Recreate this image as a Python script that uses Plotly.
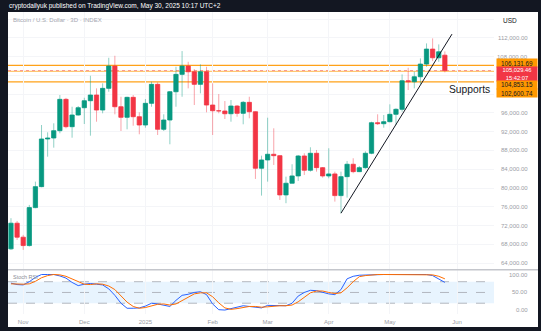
import pandas as pd
import plotly.graph_objects as go

# ---- BTC/USD 3-day candles -------------------------------------------------
candle_dates = pd.date_range("2024-10-27", periods=72, freq="3D")

opens = [67038, 72507, 69528, 67741, 75827, 80296, 90447, 90660, 92213, 98895,
         93064, 95554, 97107, 98597, 99810, 96618, 101235, 105981, 97320, 95064,
         99320, 95192, 93426, 98043, 102087, 92511, 94490, 100512, 104215, 105981,
         104768, 102087, 104768, 97682, 96469, 96405, 95830, 97469, 95916, 98256,
         96256, 84212, 85978, 87191, 86893, 78530, 81020, 82573, 86829, 83786,
         87404, 84339, 82573, 82999, 78381, 82424, 85063, 83488, 84339, 87404,
         93915, 93702, 94128, 95703, 96767, 102853, 102640, 103704, 106407, 109598,
         107747, 108300]
highs = [73571, 72987, 70018, 76402, 81360, 93426, 91872, 93788, 99810, 99200,
         97320, 97469, 99235, 103917, 101235, 102300, 107747, 108173, 99448, 99448,
         99810, 96128, 98959, 102640, 102512, 95703, 100661, 105832, 109173, 106896,
         105343, 106343, 105832, 102300, 100023, 98533, 98746, 97682, 98533, 99448,
         96300, 86893, 94979, 92723, 86950, 82424, 85063, 87042, 87404, 88680,
         88106, 84468, 88467, 83488, 83488, 85765, 86340, 84700, 87830, 94128,
         95703, 95554, 97831, 97000, 104215, 105620, 104768, 107620, 110811, 111875,
         110600, 109100]
lows = [66826, 68953, 66826, 67528, 75700, 80168, 86680, 88595, 91660, 92723,
        90723, 95405, 93640, 91149, 94128, 95916, 100512, 95703, 92149, 92511,
        93277, 91447, 92851, 97320, 91298, 92149, 89319, 97320, 99448, 101235,
        97682, 100172, 96128, 91298, 95916, 94703, 94128, 95192, 93575, 94851,
        81935, 78381, 81360, 84914, 77466, 76764, 81020, 81509, 82786, 83488,
        83488, 82211, 82083, 77105, 74636, 77955, 83148, 83400, 84100, 87200,
        93426, 92851, 94000, 93426, 96256, 100874, 101235, 102087, 105832, 107045,
        106896, 104640]
closes = [72507, 69528, 67741, 75827, 80296, 90447, 90660, 92213, 98895, 93064,
          95554, 97107, 98597, 99810, 96618, 101235, 105981, 97320, 95064, 99320,
          95192, 93426, 98043, 102087, 92511, 94490, 100512, 104215, 105981, 104768,
          102087, 104768, 97682, 96469, 96405, 95830, 97469, 95916, 98256, 96256,
          84212, 85978, 87191, 86893, 78530, 81020, 82573, 86829, 83786, 87404,
          84339, 82573, 82999, 78381, 82424, 85063, 83488, 84339, 87404, 93915,
          93702, 94128, 95703, 96767, 102853, 102640, 103704, 106407, 109598, 107747,
          109024, 105029.46]

# ---- Stochastic RSI (%K, %D) ----------------------------------------------
stoch_k = [76, 72, 71, 80, 92, 100, 100, 100, 96, 90,
           78, 69, 73, 75, 73, 71, 60, 42, 20, 6,
           6, 7, 12, 20, 18, 15, 11, 28, 42, 45,
           50, 52, 44, 18, 2, 1, 5, 10, 13, 11,
           8, 7, 14, 14, 12, 13, 20, 40, 50, 56,
           55, 50, 46, 44, 58, 88, 95, 98, 99, 100,
           100, 100, 100, 100, 100, 100, 100, 100, 100, 97,
           88, 78]
stoch_d = [74, 73, 73, 74, 81, 91, 97, 100, 99, 95,
           88, 79, 73, 72, 74, 73, 68, 58, 41, 23,
           11, 6, 8, 13, 17, 18, 15, 18, 27, 38,
           46, 49, 49, 38, 21, 7, 3, 5, 9, 11,
           11, 9, 10, 12, 13, 13, 15, 24, 37, 49,
           54, 54, 50, 47, 49, 63, 80, 94, 97, 99,
           100, 100, 100, 100, 100, 100, 100, 100, 100, 99,
           95, 88]

# ---- drawings ---------------------------------------------------------------
support_levels = [106131.69, 104853.15, 102600.74]
last_price = 105029.46
bar_countdown = "15:42:07"
trend_dates = ["2025-04-07", "2025-05-31 12:00"]
trend_prices = [74636, 112790]

month_tick_dates = ["2024-11-02", "2024-12-02", "2025-01-01", "2025-02-03",
                    "2025-03-02", "2025-04-01", "2025-05-01", "2025-06-03"]
month_tick_labels = ["Nov", "Dec", "2025", "Feb", "Mar", "Apr", "May", "Jun"]
price_grid = [64000, 68000, 72000, 76000, 80000, 84000, 88000, 92000,
              96000, 100000, 104000, 108000, 112000, 116000]
price_labels = [112000, 108000, 96000, 92000, 88000, 84000, 80000, 76000,
                72000, 68000, 64000]
stoch_labels = [100, 50, 0]

# ---- canvas geometry (pixels) ------------------------------------------------
W, H = 541, 331
X_LEFT, X_RIGHT = 8, 494
MAIN_TOP, MAIN_BOTTOM, OSC_BOTTOM = 12, 269.7, 314
X_RANGE = ["2024-10-25 13:00", "2025-06-21 03:00"]
BODY_WIDTH_MS = 2.1 * 24 * 3600 * 1000  # candle body width, a little over 2 days

UP = "#089981"
DOWN = "#f23645"
ORANGE = "#ff9800"
AXIS_TEXT = "#9a9da6"
GRID = "#f4f5f8"
FONT = "Liberation Sans"


def px(x):
    return x / W


def py(y):
    return 1 - y / H


fig = go.Figure()

rising = [c >= o for o, c in zip(opens, closes)]

# wicks, drawn lighter than the bodies
for up, colour in ((True, "rgba(8,153,129,0.45)"), (False, "rgba(242,54,69,0.45)")):
    wx, wy = [], []
    for d, h, l, r in zip(candle_dates, highs, lows, rising):
        if r == up:
            wx += [d, d, None]
            wy += [l, h, None]
    fig.add_trace(go.Scatter(x=wx, y=wy, mode="lines", line=dict(color=colour, width=1),
                             xaxis="x", yaxis="y", hoverinfo="skip"))

# candle bodies: bars from min(open, close) spanning |close - open|
body_colours = [UP if r else DOWN for r in rising]
fig.add_trace(go.Bar(
    x=candle_dates,
    base=[min(o, c) for o, c in zip(opens, closes)],
    y=[abs(c - o) for o, c in zip(opens, closes)],
    width=BODY_WIDTH_MS,
    marker=dict(color=body_colours, line=dict(color=body_colours, width=0.8)),
    xaxis="x", yaxis="y", hoverinfo="skip"))

# rising trendline
fig.add_trace(go.Scatter(x=trend_dates, y=trend_prices, mode="lines",
                         line=dict(color="#131722", width=1), xaxis="x", yaxis="y",
                         hoverinfo="skip"))

# Stoch RSI lines
fig.add_trace(go.Scatter(x=candle_dates, y=stoch_k, mode="lines",
                         line=dict(color="#2962ff", width=1), xaxis="x2", yaxis="y2",
                         hoverinfo="skip"))
fig.add_trace(go.Scatter(x=candle_dates, y=stoch_d, mode="lines",
                         line=dict(color="#ff6d00", width=1), xaxis="x2", yaxis="y2",
                         hoverinfo="skip"))

shapes = [
    # white chart panel inside the dark frame
    dict(type="rect", xref="paper", yref="paper", x0=px(8), x1=px(538),
         y0=py(327), y1=py(MAIN_TOP), fillcolor="white", line=dict(width=0), layer="below"),
    # oscillator band 20..80
    dict(type="rect", xref="x2 domain", yref="y2", x0=0, x1=1, y0=20, y1=80,
         fillcolor="rgba(33,150,243,0.10)", line=dict(width=0), layer="below"),
    # pane separator
    dict(type="line", xref="paper", yref="paper", x0=px(8), x1=px(538),
         y0=py(MAIN_BOTTOM), y1=py(MAIN_BOTTOM), line=dict(color="#c4c6cc", width=1.6)),
]
for lvl in (80, 50, 20):
    shapes.append(dict(type="line", xref="x2 domain", yref="y2", x0=0, x1=1, y0=lvl, y1=lvl,
                       line=dict(color="#a3a6ae", width=0.8, dash="dash"), layer="below"))
for lvl in support_levels:
    middle = lvl == support_levels[1]
    shapes.append(dict(type="line", xref="x domain", yref="y", x0=0, x1=1, y0=lvl, y1=lvl,
                       line=dict(color=ORANGE, width=1.2), opacity=0.55 if middle else 0.9,
                       layer="below"))
shapes.append(dict(type="line", xref="x domain", yref="y", x0=0, x1=1,
                   y0=last_price, y1=last_price,
                   line=dict(color=DOWN, width=0.8, dash="dot"), opacity=0.6, layer="below"))

annotations = [
    dict(text="cryptodailyuk published on TradingView.com, May 30, 2025 10:17 UTC+2",
         xref="paper", yref="paper", x=px(7), y=py(6), xanchor="left", yanchor="middle",
         showarrow=False, font=dict(family=FONT, size=6.5, color="white")),
    dict(text="Bitcoin / U.S. Dollar · 3D · INDEX", xref="paper", yref="paper",
         x=px(11), y=py(20), xanchor="left", yanchor="middle", showarrow=False,
         font=dict(family=FONT, size=6, color="#a3a6af")),
    dict(text="USD", xref="paper", yref="paper", x=px(501), y=py(20), xanchor="left",
         yanchor="middle", showarrow=False, font=dict(family=FONT, size=6.5, color="#131722")),
    dict(text="Stoch RSI", xref="paper", yref="paper", x=px(11), y=py(277), xanchor="left",
         yanchor="middle", showarrow=False, font=dict(family=FONT, size=5.5, color="#8a8d96")),
    dict(text="Supports", xref="paper", yref="paper", x=px(447), y=py(90), xanchor="left",
         yanchor="middle", showarrow=False, font=dict(family=FONT, size=10.3, color="#131722")),
]
for p in price_labels:
    annotations.append(dict(text=f"{p:,.2f}", xref="paper", yref="y", x=px(530), y=p,
                            xanchor="right", yanchor="middle", showarrow=False,
                            font=dict(family=FONT, size=6, color=AXIS_TEXT)))
for v in stoch_labels:
    annotations.append(dict(text=f"{v:.2f}", xref="paper", yref="y2", x=px(530), y=v,
                            xanchor="right", yanchor="middle", showarrow=False,
                            font=dict(family=FONT, size=6, color=AXIS_TEXT)))

# price-scale tags for the drawn levels (stacked so they do not overlap)
tags = [
    (f"{support_levels[0]:,.2f}", 62.5, 8.4, ORANGE, "#131722", 6.3),
    (f"{last_price:,.2f}<br>{bar_countdown}", 73.7, 14, DOWN, "white", 5.8),
    (f"{support_levels[1]:,.2f}", 84.6, 7.8, ORANGE, "#131722", 6.3),
    (f"{support_levels[2]:,.2f}", 92.6, 8.4, ORANGE, "#131722", 6.3),
]
for text, yc, hgt, bg, fg, size in tags:
    annotations.append(dict(text=text, xref="paper", yref="paper", x=px(496), y=py(yc),
                            xanchor="left", yanchor="middle", showarrow=False,
                            width=40, height=hgt, bgcolor=bg, borderpad=0, align="center",
                            font=dict(family=FONT, size=size, color=fg)))

fig.update_layout(
    width=W, height=H, margin=dict(l=0, r=0, t=0, b=0),
    paper_bgcolor="#131722", plot_bgcolor="rgba(0,0,0,0)",
    showlegend=False, hovermode=False,
    shapes=shapes, annotations=annotations,
    xaxis=dict(domain=[px(X_LEFT), px(X_RIGHT)], range=X_RANGE, type="date", anchor="y",
               tickvals=month_tick_dates, showticklabels=False, showgrid=True,
               gridcolor=GRID, zeroline=False, showline=False, ticks=""),
    yaxis=dict(domain=[py(MAIN_BOTTOM), py(MAIN_TOP)], range=[62600, 117500], anchor="x",
               tickvals=price_grid, showticklabels=False, showgrid=True, gridcolor=GRID,
               zeroline=False, showline=False, ticks=""),
    xaxis2=dict(domain=[px(X_LEFT), px(X_RIGHT)], range=X_RANGE, type="date", anchor="y2",
                tickvals=month_tick_dates, ticktext=month_tick_labels, showgrid=True,
                gridcolor=GRID, zeroline=False, showline=False, ticks="",
                tickfont=dict(family=FONT, size=6, color=AXIS_TEXT), ticklabelstandoff=3),
    yaxis2=dict(domain=[py(OSC_BOTTOM), py(MAIN_BOTTOM)], range=[-10, 113.4], anchor="x2",
                showticklabels=False, showgrid=False, zeroline=False, showline=False, ticks=""),
)

fig.write_html("out.html")
